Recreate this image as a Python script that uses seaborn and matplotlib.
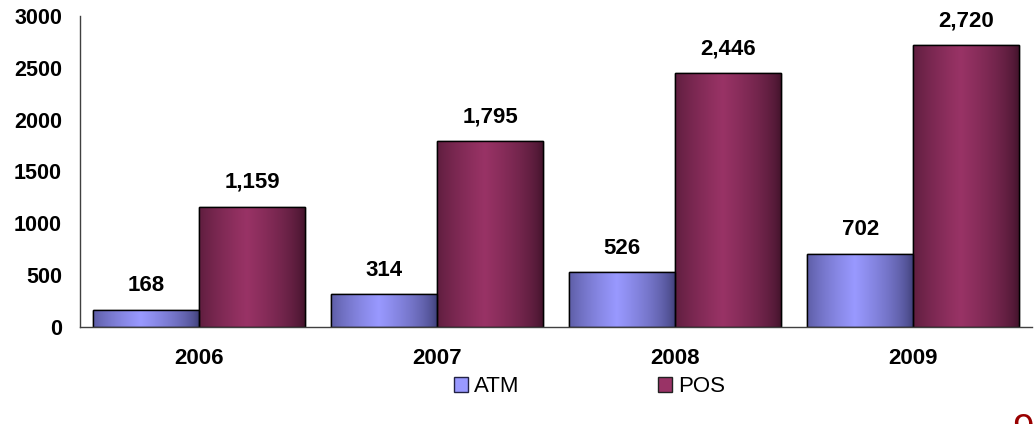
import numpy as np
import pandas as pd
import seaborn as sns
import matplotlib.pyplot as plt
from matplotlib.patches import Patch
from matplotlib.colors import to_rgb

years = ["2006", "2007", "2008", "2009"]
atm = [168, 314, 526, 702]
pos = [1159, 1795, 2446, 2720]
series = ["ATM", "POS"]

# gradient colours per series: (edge dark, centre light)
atm_dark, atm_light = "#3c3c74", "#9999ff"
pos_dark, pos_light = "#3f1229", "#993366"

df = pd.DataFrame({
    "year": years * 2,
    "value": atm + pos,
    "series": ["ATM"] * len(years) + ["POS"] * len(years),
})

sns.set_style("white")
plt.rcParams["font.family"] = ["Liberation Sans", "DejaVu Sans"]
plt.rcParams["text.color"] = "black"
plt.rcParams["xtick.labelcolor"] = "black"
plt.rcParams["ytick.labelcolor"] = "black"

fig = plt.figure(figsize=(10.34, 4.24), dpi=100)
ax = fig.add_axes([0.0774, 0.2288, 0.921, 0.7335])

sns.barplot(data=df, x="year", y="value", hue="series", hue_order=series,
            width=0.89, palette=[atm_light, pos_light], legend=False,
            edgecolor="black", linewidth=1.0, ax=ax, errorbar=None)


def gradient(dark, light, n=200):
    t = np.linspace(0, 1, n)
    f = np.clip(1 - np.abs(t - 0.45) / 0.55, 0, 1) ** 0.6
    d, l = np.array(to_rgb(dark)), np.array(to_rgb(light))
    return (d + (l - d) * f[:, None])[None, :, :]


bars = list(ax.patches)
n = len(years)
for i, p in enumerate(bars):
    dark, light = (atm_dark, atm_light) if i < n else (pos_dark, pos_light)
    x0, y0 = p.get_x(), p.get_y()
    w, h = p.get_width(), p.get_height()
    im = ax.imshow(gradient(dark, light), extent=[x0, x0 + w, y0, y0 + h],
                   aspect="auto", zorder=p.get_zorder() + 0.1, interpolation="bilinear")
    im.set_clip_path(p)
    edge = plt.Rectangle((x0, y0), w, h, fill=False, edgecolor="black",
                         linewidth=1.0, zorder=p.get_zorder() + 0.2)
    ax.add_patch(edge)
    ax.annotate(f"{int(h):,}", (x0 + w / 2, y0 + h), xytext=(0, 10),
                textcoords="offset points", ha="center", va="bottom",
                fontsize=16, fontweight="bold", color="black")

ax.set_xlim(-0.5, len(years) - 0.5)
ax.set_ylim(0, 3000)
ax.set_yticks(range(0, 3001, 500))
ax.set_yticklabels([str(v) for v in range(0, 3001, 500)], fontsize=15.5, fontweight="bold")

ax.set_xticks(np.arange(-0.5, len(years), 1.0))
ax.set_xticklabels([])
ax.set_xticks(range(len(years)), minor=True)
ax.set_xticklabels(years, minor=True, fontsize=16, fontweight="bold")
ax.tick_params(axis="x", which="minor", length=0, pad=15)
ax.tick_params(axis="x", which="major", length=5, width=1, color="#404040", direction="out")
ax.tick_params(axis="y", length=5, width=1, color="#404040", direction="out", pad=8)
ax.set_xlabel("")
ax.set_ylabel("")

for s in ["top", "right"]:
    ax.spines[s].set_visible(False)
for s in ["left", "bottom"]:
    ax.spines[s].set_color("#404040")
    ax.spines[s].set_linewidth(1.0)

handles = [Patch(facecolor=atm_light, edgecolor="#222244", label="ATM"),
           Patch(facecolor=pos_light, edgecolor="#222222", label="POS")]
fig.legend(handles=handles, loc="center", bbox_to_anchor=(0.57, 0.088), ncol=2,
           frameon=False, fontsize=16, handlelength=0.63, handleheight=0.63,
           handletextpad=0.3, columnspacing=6.2, borderpad=0.1)

# cropped slide marker at bottom right
fig.text(0.979, -0.04, "9", color="#990000", fontsize=28, ha="left", va="baseline")

fig.savefig("out.png", dpi=100)
